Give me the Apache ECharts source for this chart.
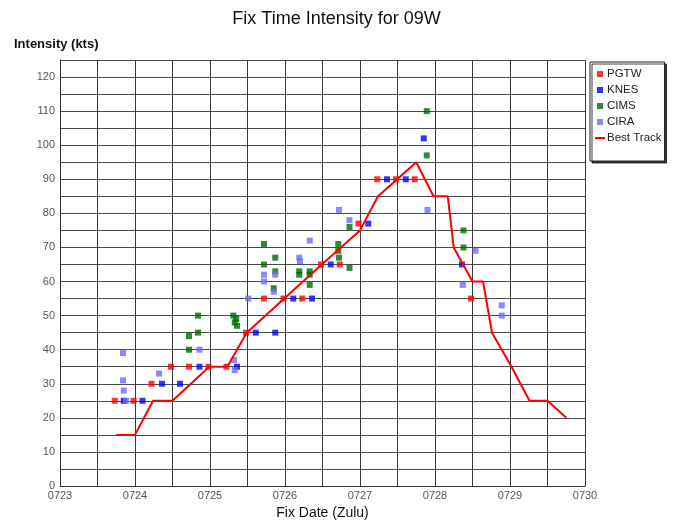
<!DOCTYPE html>
<html>
<head>
<meta charset="utf-8">
<title>Fix Time Intensity for 09W</title>
<script src="https://cdn.jsdelivr.net/npm/echarts@6/dist/echarts.min.js"></script>
<style>
  html, body { margin: 0; padding: 0; background: #fff; }
  #chart { width: 673px; height: 525px; }
</style>
</head>
<body>
<div id="chart"></div>
<script>
// Fix times are expressed as day-of-July (e.g. 24.5 = 0724 12Z); intensities in knots.
const pgtw = [
  [23.73, 25], [23.98, 25], [24.22, 30], [24.48, 35], [24.72, 35], [24.98, 35],
  [25.22, 35], [25.48, 45], [25.72, 55], [25.98, 55], [26.23, 55], [26.48, 65],
  [26.73, 65], [26.98, 77], [27.23, 90], [27.48, 90], [27.73, 90], [28.48, 55]
];
const knes = [
  [23.85, 25], [24.10, 25], [24.36, 30], [24.60, 30], [24.86, 35], [25.36, 35],
  [25.61, 45], [25.87, 45], [26.11, 55], [26.36, 55], [26.61, 65], [27.11, 77],
  [27.36, 90], [27.61, 90], [27.85, 102], [28.36, 65]
];
const cims = [
  [24.72, 40], [24.72, 44], [24.84, 45], [24.84, 50], [25.31, 50], [25.35, 49],
  [25.33, 48], [25.36, 47], [25.72, 71], [25.72, 65], [25.85, 58], [25.87, 67],
  [25.87, 63], [26.19, 63], [26.19, 62], [26.33, 63], [26.33, 62], [26.33, 59],
  [26.71, 71], [26.71, 69], [26.72, 67], [26.86, 64], [26.86, 76], [27.89, 110],
  [27.89, 97], [28.38, 75], [28.38, 70]
];
const cira = [
  [23.84, 39], [23.84, 31], [23.85, 28], [23.88, 25], [24.32, 33], [24.86, 40],
  [25.32, 37], [25.33, 34], [25.51, 55], [25.72, 62], [25.72, 60], [25.85, 57],
  [25.87, 62], [26.19, 67], [26.20, 66], [26.33, 72], [26.72, 81], [26.86, 78],
  [27.90, 81], [28.37, 59], [28.54, 69], [28.89, 53], [28.89, 50]
];
const bestTrack = [
  [23.75, 15], [24.00, 15], [24.24, 25], [24.50, 25], [24.99, 35], [25.23, 35],
  [25.49, 45], [25.99, 55], [26.49, 65], [27.00, 75], [27.24, 85], [27.75, 95],
  [27.98, 85], [28.17, 85], [28.25, 70], [28.50, 60], [28.64, 60], [28.76, 45],
  [29.02, 35], [29.26, 25], [29.50, 25], [29.75, 20]
];
const seriesNames = ['PGTW', 'KNES', 'CIMS', 'CIRA', 'Best Track'];
const dayLabels = ['0723', '0724', '0725', '0726', '0727', '0728', '0729', '0730'];
const intensityTicks = [0, 10, 20, 30, 40, 50, 60, 70, 80, 90, 100, 110, 120];

const FONT = '"Liberation Sans Narrow", "Arial Narrow", "Liberation Sans", Arial, sans-serif';
const squareIcon = 'path://M0,0h1v1h-1z';
const lineIcon = 'path://M0,0h10v2h-10z';

function fixSeries(name, data, color) {
  return {
    name: name,
    type: 'scatter',
    data: data,
    symbol: 'rect',
    symbolSize: 6,
    itemStyle: { color: color },
    emphasis: { disabled: true },
    z: 3
  };
}

const chart = echarts.init(document.getElementById('chart'), null, { renderer: 'canvas' });

chart.setOption({
  animation: false,
  backgroundColor: '#ffffff',
  title: [
    {
      text: 'Fix Time Intensity for 09W',
      left: 'center',
      top: 5,
      textStyle: { fontFamily: FONT, fontSize: 18, fontWeight: 'normal', color: '#111' }
    },
    {
      text: 'Intensity (kts)',
      left: 9,
      top: 33,
      textStyle: { fontFamily: FONT, fontSize: 13, fontWeight: 'bold', color: '#111' }
    }
  ],
  legend: {
    orient: 'vertical',
    left: 590,
    top: 62,
    padding: [6, 3, 17, 5],
    itemGap: 4,
    itemWidth: 10,
    itemHeight: 6,
    backgroundColor: '#fff',
    borderColor: '#222',
    borderWidth: 1,
    borderRadius: 0,
    shadowColor: 'rgba(0,0,0,0.75)',
    shadowBlur: 0,
    shadowOffsetX: 2,
    shadowOffsetY: 2,
    textStyle: { fontFamily: FONT, fontSize: 11.5, color: '#222', padding: [0, 0, 0, -3] },
    data: [
      { name: 'PGTW', icon: squareIcon },
      { name: 'KNES', icon: squareIcon },
      { name: 'CIMS', icon: squareIcon },
      { name: 'CIRA', icon: squareIcon },
      { name: 'Best Track', icon: lineIcon }
    ]
  },
  grid: { left: 60, right: 88, top: 60, bottom: 37, containLabel: false },
  xAxis: {
    type: 'value',
    min: 23,
    max: 30,
    interval: 0.5,
    name: 'Fix Date (Zulu)',
    nameLocation: 'middle',
    nameGap: 20,
    nameTextStyle: { fontFamily: FONT, fontSize: 14, color: '#111' },
    axisLine: { show: true, lineStyle: { color: '#333', width: 1 } },
    axisTick: { show: false },
    axisLabel: {
      fontFamily: FONT,
      fontSize: 11,
      color: '#555',
      margin: 4,
      showMinLabel: true,
      showMaxLabel: true,
      formatter: function (v) {
        const i = Math.round(v - 23);
        return Math.abs(v - Math.round(v)) < 1e-6 ? dayLabels[i] : '';
      }
    },
    splitLine: { show: true, lineStyle: { color: '#3a3a3a', width: 1 } }
  },
  yAxis: {
    type: 'value',
    min: 0,
    max: 125,
    interval: 5,
    axisLine: { show: true, lineStyle: { color: '#333', width: 1 } },
    axisTick: { show: false },
    axisLabel: {
      fontFamily: FONT,
      fontSize: 11,
      color: '#555',
      margin: 5,
      formatter: function (v) {
        return intensityTicks.indexOf(v) >= 0 ? String(v) : '';
      }
    },
    splitLine: { show: true, lineStyle: { color: '#4a4a4a', width: 1 } }
  },
  series: [
    fixSeries(seriesNames[0], pgtw, '#ff0000'),
    fixSeries(seriesNames[1], knes, '#0000ff'),
    fixSeries(seriesNames[2], cims, '#006a00'),
    fixSeries(seriesNames[3], cira, '#6b6bff'),
    {
      name: seriesNames[4],
      type: 'line',
      data: bestTrack,
      symbol: 'none',
      lineStyle: { color: '#ff0000', width: 2 },
      itemStyle: { color: '#ff0000' },
      emphasis: { disabled: true },
      z: 4
    }
  ]
});
</script>
</body>
</html>
